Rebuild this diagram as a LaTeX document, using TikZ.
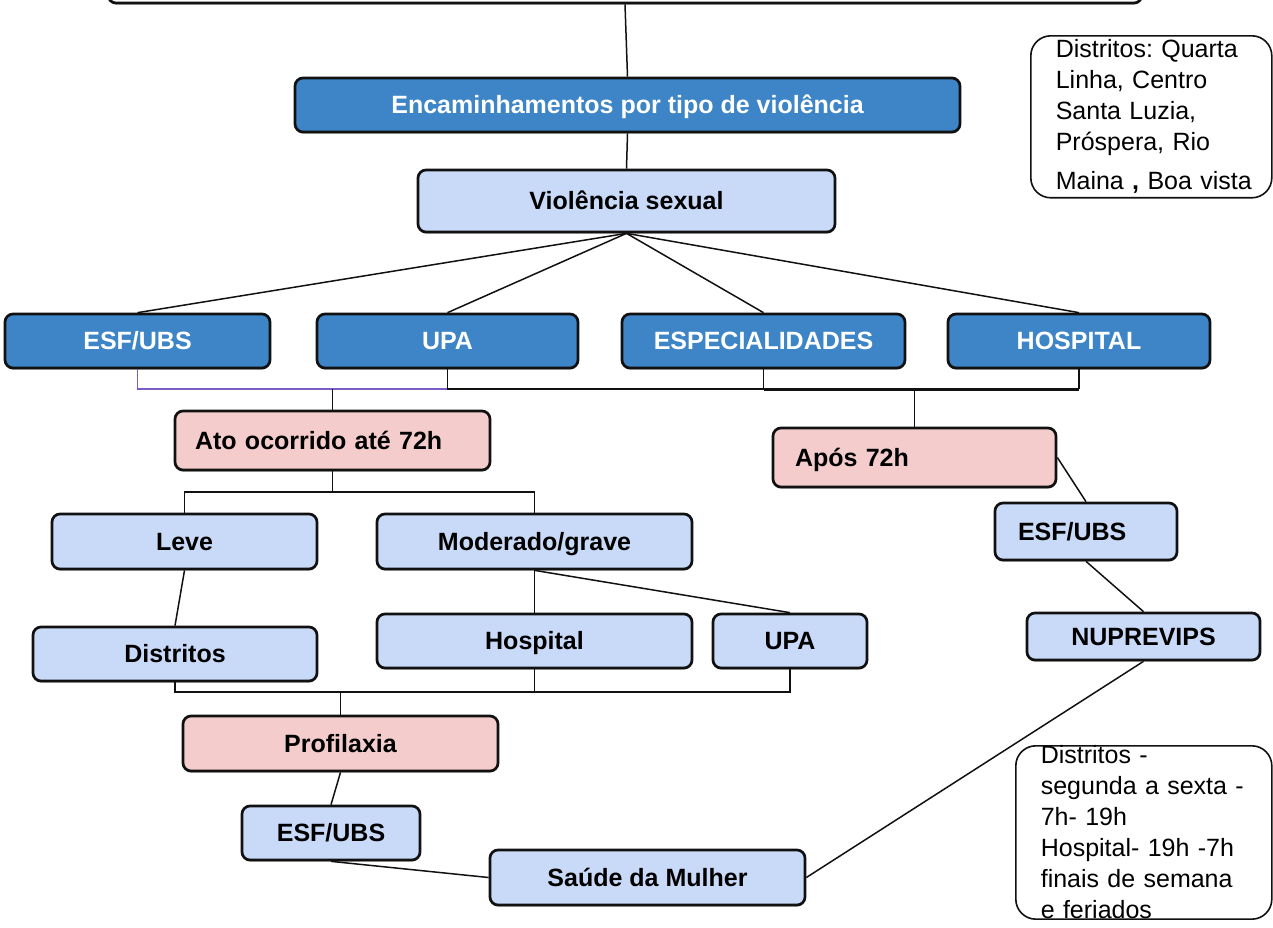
\documentclass[tikz,border=0pt]{standalone}
\usepackage{fontspec}
\setmainfont{Liberation Sans}
\usetikzlibrary{positioning,shadows}
\definecolor{violdark}{HTML}{3D85C6}
\definecolor{violblue}{HTML}{C9DAF8}
\definecolor{violpink}{HTML}{F4CCCC}
\definecolor{violink}{HTML}{111111}
\definecolor{violpurple}{HTML}{7B5BC4}
\frenchspacing

\begin{document}
\begin{tikzpicture}[
  x=0.5pt, y=-0.5pt,
  font=\fontsize{12.5}{15.5}\selectfont,
  box/.style={draw=violink, line width=1.35pt, rounded corners=4pt, inner sep=2pt, minimum height=27pt,
    text height=11.2pt, text depth=2.4pt,
    font=\fontsize{12.5}{15.5}\selectfont\bfseries, drop shadow={shadow xshift=0pt, shadow yshift=-0.9pt, opacity=0.45}},
  hubbox/.style={box, fill=violdark, text=white},
  subbox/.style={box, fill=violblue},
  pinkbox/.style={box, fill=violpink},
  note/.style={draw=violink, line width=0.8pt, rounded corners=10pt, align=left, anchor=north west, inner xsep=12.5pt},
  link/.style={draw=violink, line width=0.75pt}
]
\useasboundingbox (0,0) rectangle (1273,927);

\node[box, fill=white, minimum width=517pt, minimum height=30pt] (top) at (625,-27) {};
\node[hubbox, minimum width=332.5pt] (enc) at (627.5,105) {Encaminhamentos por tipo de violência};
\node[subbox, minimum width=208.5pt, minimum height=31pt] (vs) at (626.5,201) {Violência sexual};

\node[hubbox, minimum width=132.5pt] (esfA) at (137.5,341) {ESF/UBS};
\node[hubbox, minimum width=130.5pt] (upaA) at (447.5,341) {UPA};
\node[hubbox, minimum width=141.5pt] (esp) at (763.5,341) {ESPECIALIDADES};
\node[hubbox, minimum width=131pt] (hospA) at (1079,341) {HOSPITAL};

\node[pinkbox, minimum height=29.5pt, text width=137.5pt, inner xsep=10pt, align=left] (ato) at (332.5,440.5) {Ato ocorrido até 72h};
\node[pinkbox, minimum height=29.5pt, text width=119.5pt, inner xsep=11pt, align=left] (apos) at (914.5,457.5) {Após 72h};

\node[subbox, minimum width=132.5pt, minimum height=27.5pt] (leve) at (184.5,541.5) {Leve};
\node[subbox, minimum width=157.5pt, minimum height=27.5pt] (mod) at (534.5,541.5) {Moderado/grave};
\node[subbox, minimum width=142pt] (dist) at (175,654) {Distritos};
\node[subbox, minimum width=157.5pt] (hospB) at (534.5,641) {Hospital};
\node[subbox, minimum width=77pt] (upaB) at (790,641) {UPA};
\node[pinkbox, minimum width=157.5pt, minimum height=27.5pt] (prof) at (340.5,743.5) {Profilaxia};
\node[subbox, minimum width=89pt] (esfB) at (331,833) {ESF/UBS};
\node[subbox, minimum width=157.5pt, minimum height=27.5pt] (saude) at (647.5,877.5) {Saúde da Mulher};

\node[subbox, minimum height=28.5pt, text width=68pt, inner xsep=11.5pt, align=left] (esfC) at (1086,531.5) {ESF/UBS};
\node[subbox, minimum width=116.5pt, minimum height=23.5pt] (nup) at (1143.5,636.5) {NUPREVIPS};

% notes on the right
\node[note, text width=95.5pt, inner ysep=2pt] (distA) at (1030,35)
  {Distritos: Quarta\\Linha, Centro\\Santa Luzia,\\Próspera, Rio\\[4pt]\mbox{Maina \textbf{,} Boa vista}};
\node[note, text width=103pt, inner ysep=0pt] (distB) at (1015,745)
  {Distritos -\\segunda a sexta -\\7h- 19h\\Hospital- 19h -7h\\finais de semana\\e feriados};

\coordinate (busT) at (447.5,389);
\coordinate (busM) at (332.5,492);
\coordinate (busB) at (340.5,692);

\draw[link] (top.south) -- (enc.north);
\draw[link] (enc.south) -- (vs.north);
\foreach \n in {esfA,upaA,esp,hospA}
  \draw[link] (vs.south) -- (\n.north);

\draw[link, draw=violpurple] (esfA.south) |- (busT);
\draw[link] (upaA.south) |- (apos.north |- busT);
\draw[link] (esp.south) -- (esp.south |- busT);
\draw[link] (hospA.south) -- (hospA.south |- busT);
\draw[link, line width=1.6pt] ([yshift=-0.4pt]esp.south |- busT) -- ([yshift=-0.4pt]hospA.south |- busT);
\draw[link] (apos.north) -- (apos.north |- busT);
\draw[link] (ato.north) -- (ato.north |- busT);

\draw[link] (ato.south) -- (busM);
\draw[link] (leve.north) |- (busM) -| (mod.north);
\draw[link] (leve.south) -- (dist.north);
\draw[link] (mod.south) -- (hospB.north);
\draw[link] (mod.south) -- (upaB.north);
\draw[link] (dist.south) |- (busB) -| (upaB.south);
\draw[link] (hospB.south) -- (hospB.south |- busB);
\draw[link] (prof.north) -- (busB);
\draw[link] (prof.south) -- (esfB.north);
\draw[link] (esfB.south) -- (saude.west);
\draw[link] (saude.east) -- (nup.south);

\draw[link] (apos.east) -- (esfC.north);
\draw[link] (esfC.south) -- (nup.north);
\end{tikzpicture}
\end{document}
